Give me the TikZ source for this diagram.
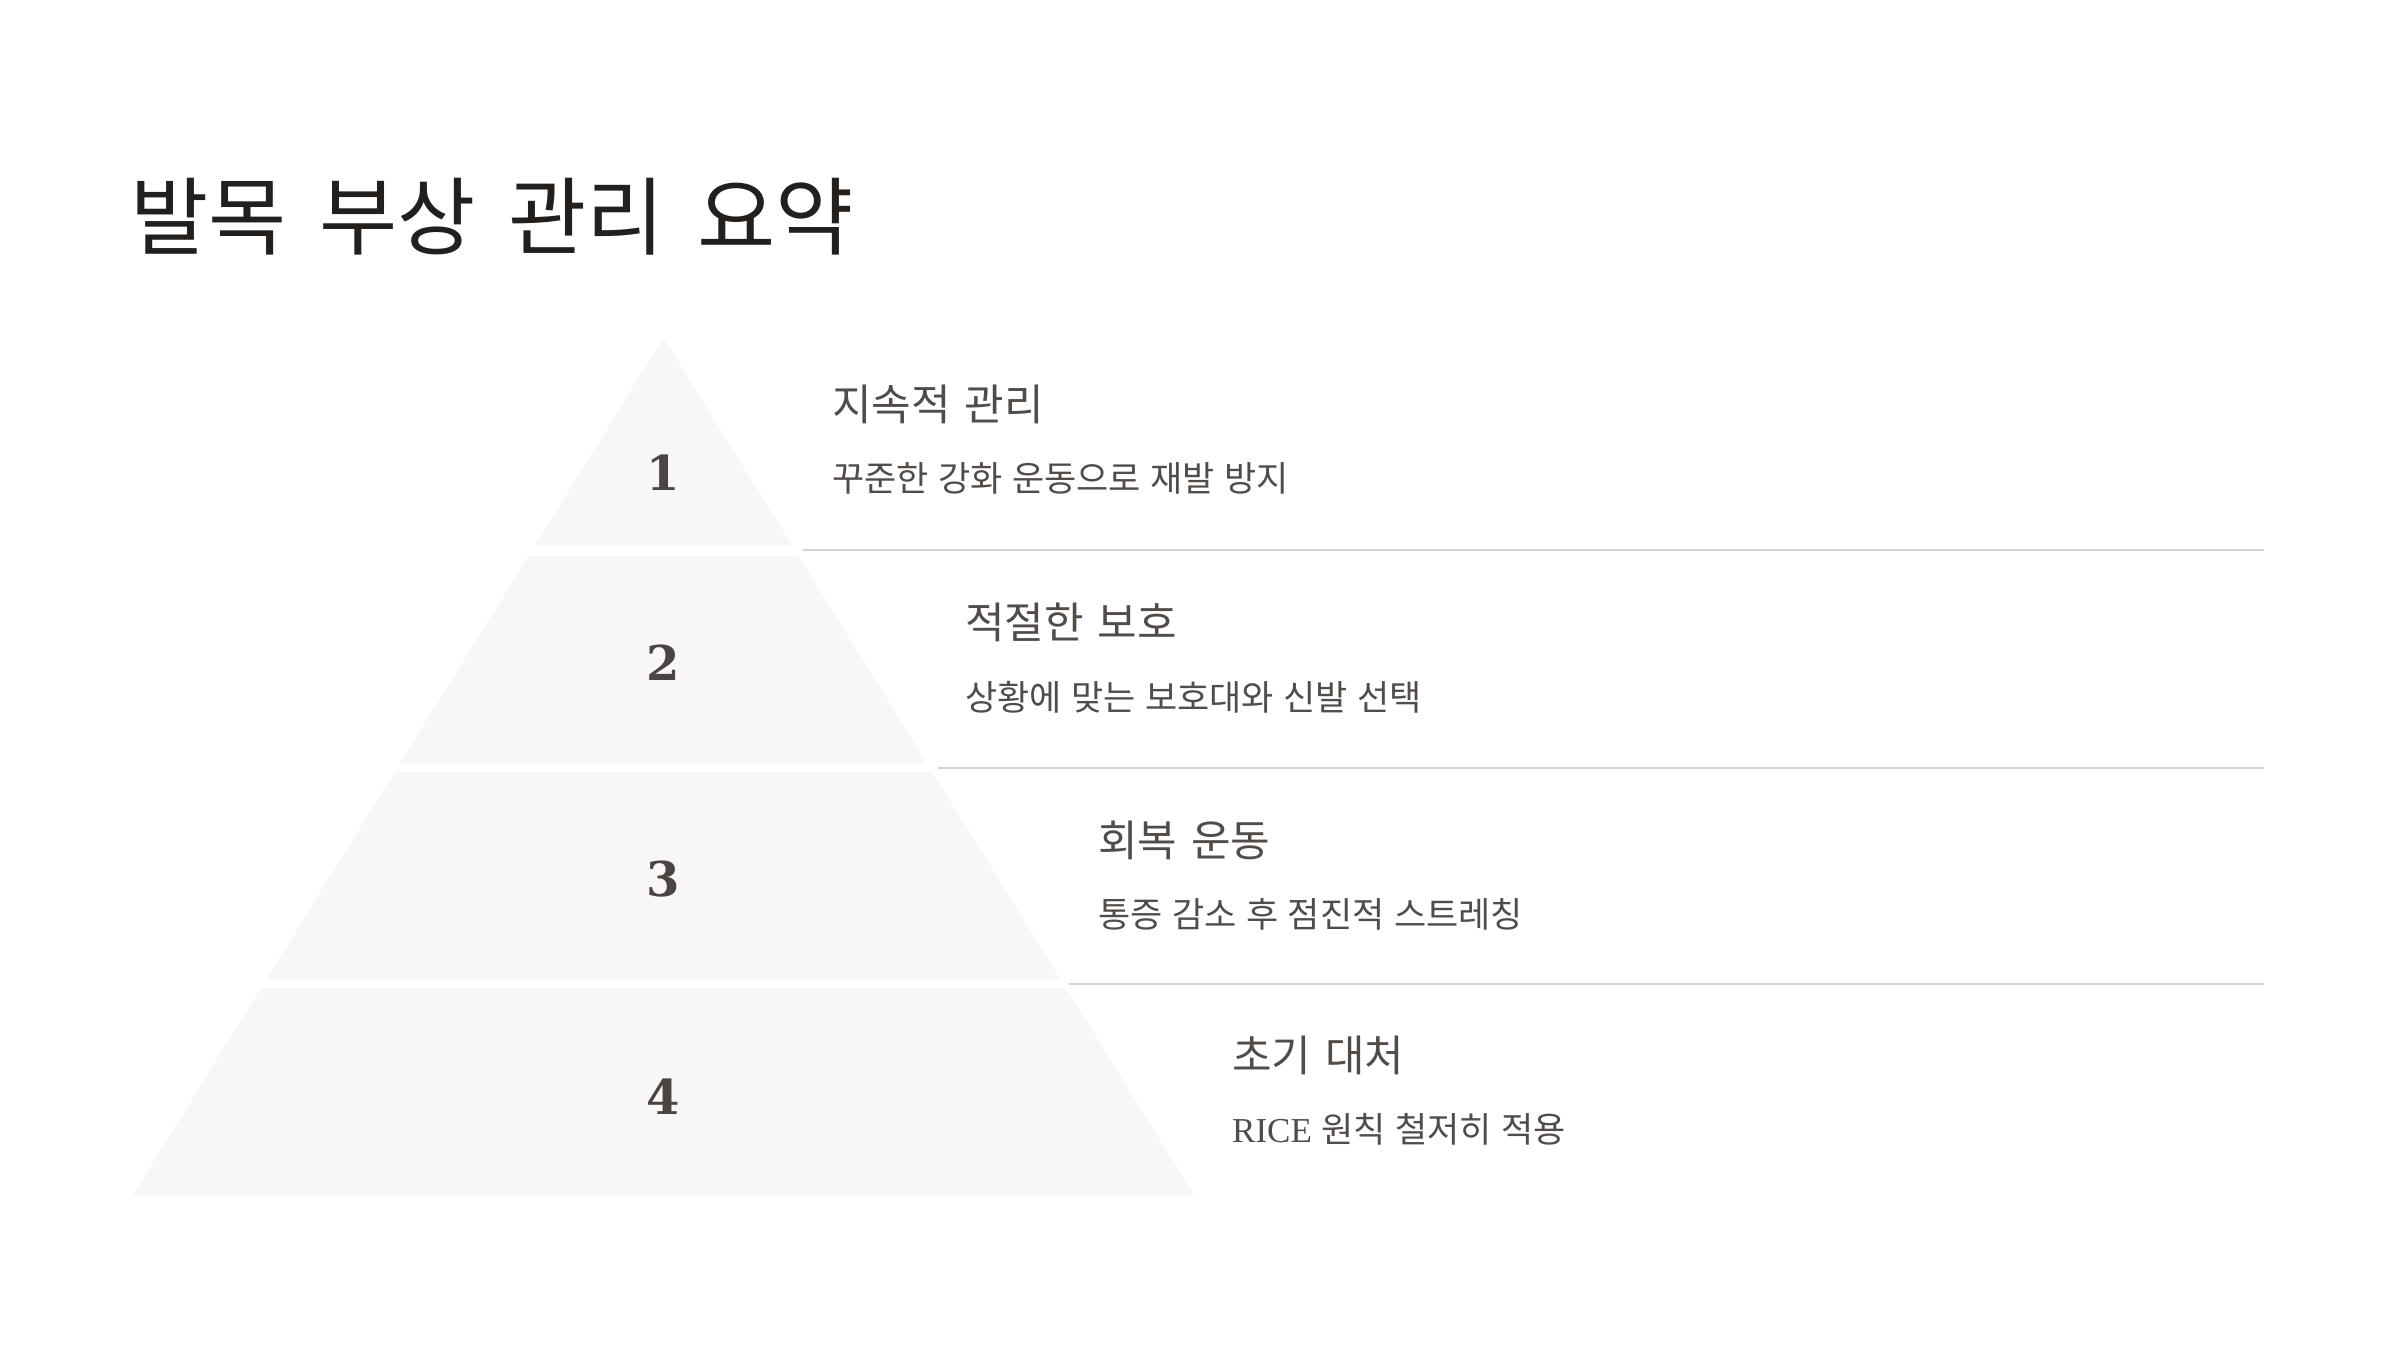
\documentclass[tikz,border=0pt]{standalone}
\usepackage{fontspec}
\setmainfont{Noto Sans CJK KR}
\newfontfamily\latinserif{Liberation Serif}
\newfontfamily\numserif{DejaVu Serif}
\definecolor{titlecol}{HTML}{231F1D}
\definecolor{textcol}{HTML}{524C49}
\definecolor{numcol}{HTML}{4A4543}
\definecolor{tierfill}{HTML}{F8F6F6}
\definecolor{rulecol}{HTML}{D6D2D2}
\newcommand{\widerspaces}[1]{\spaceskip=\dimexpr\fontdimen2\font+#1em\relax}
\tikzset{
  tier/.style={fill=tierfill, draw=none},
  sep/.style={draw=rulecol, line width=2pt},
  heading/.style={anchor=west, inner sep=0pt, text=textcol, font=\fontsize{43}{50}\selectfont\widerspaces{0.1}},
  subtext/.style={anchor=west, inner sep=0pt, text=textcol, font=\fontsize{35}{40}\selectfont\widerspaces{0.05}},
  tiernum/.style={anchor=center, inner sep=0pt, text=numcol, font=\numserif\bfseries\fontsize{48}{56}\selectfont},
  titletext/.style={anchor=west, inner sep=0pt, text=titlecol, font=\fontsize{85}{96}\selectfont\widerspaces{0.16}}
}
\begin{document}
\begin{tikzpicture}[x=1pt,y=-1pt]
\useasboundingbox[fill=white] (0,0) rectangle (2400,1350);
% title
\node[titletext] (title) at (130,217) {발목 부상 관리 요약};
% pyramid tiers (center x = 663.5)
\fill[tier] (663.5,338) -- (791.6,545) -- (535.4,545) -- cycle;
\fill[tier] (528.6,556) -- (798.4,556) -- (926.6,763) -- (400.4,763) -- cycle;
\fill[tier] (394.8,772) -- (932.2,772) -- (1060.3,979) -- (266.7,979) -- cycle;
\fill[tier] (261.1,988) -- (1065.9,988) -- (1194,1195) -- (133,1195) -- cycle;
% numbers
\node[tiernum] (n1) at (663.5,472.5) {1};
\node[tiernum] (n2) at (663.5,662.5) {2};
\node[tiernum] (n3) at (663.5,879.5) {3};
\node[tiernum] (n4) at (663.5,1096.5) {4};
% separator lines
\coordinate (s1a) at (803,550);  \coordinate (s1b) at (2264,550);
\coordinate (s2a) at (938,768);  \coordinate (s2b) at (2264,768);
\coordinate (s3a) at (1069,984); \coordinate (s3b) at (2264,984);
\draw[sep] (s1a) -- (s1b);
\draw[sep] (s2a) -- (s2b);
\draw[sep] (s3a) -- (s3b);
% texts
\node[heading] (h1) at (832,404) {지속적 관리};
\node[subtext] (d1) at (832,478) {꾸준한 강화 운동으로 재발 방지};
\node[heading] (h2) at (965,622) {적절한 보호};
\node[subtext] (d2) at (965,697) {상황에 맞는 보호대와 신발 선택};
\node[heading] (h3) at (1098,840) {회복 운동};
\node[subtext] (d3) at (1098,914) {통증 감소 후 점진적 스트레칭};
\node[heading] (h4) at (1232,1055) {초기 대처};
\node[subtext] (d4) at (1232,1129) {{\latinserif RICE} 원칙 철저히 적용};
\end{tikzpicture}
\end{document}
